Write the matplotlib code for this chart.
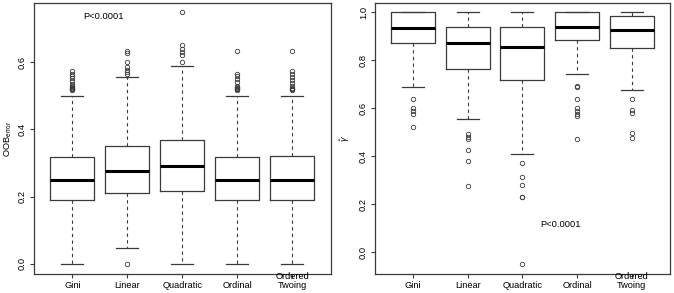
import matplotlib
matplotlib.use('Agg')
import matplotlib.pyplot as plt

plt.rcParams['font.family'] = ['Liberation Sans', 'DejaVu Sans']
plt.rcParams['mathtext.fontset'] = 'custom'
plt.rcParams['mathtext.rm'] = 'Liberation Sans'
plt.rcParams['mathtext.it'] = 'Liberation Sans:italic'

methods = ["Gini", "Linear", "Quadratic", "Ordinal", "Ordered\nTwoing"]

# left panel: OOB error
oob_whislo = [0.0, 0.047, 0.0, 0.0, 0.0]
oob_q1 = [0.189, 0.210, 0.216, 0.189, 0.189]
oob_med = [0.250, 0.277, 0.292, 0.250, 0.250]
oob_q3 = [0.317, 0.350, 0.368, 0.317, 0.320]
oob_whishi = [0.499, 0.555, 0.588, 0.499, 0.499]
oob_fliers = [
    [0.517, 0.519, 0.521, 0.523, 0.525, 0.528, 0.535, 0.545, 0.552, 0.56, 0.566, 0.573],
    [0.0, 0.565, 0.572, 0.578, 0.586, 0.6, 0.628, 0.633],
    [0.6, 0.62, 0.63, 0.64, 0.651, 0.749],
    [0.517, 0.519, 0.521, 0.523, 0.526, 0.53, 0.54, 0.55, 0.558, 0.565, 0.633],
    [0.517, 0.519, 0.521, 0.524, 0.528, 0.537, 0.548, 0.556, 0.565, 0.575, 0.633],
]

# right panel: gamma hat
g_whislo = [0.6875, 0.554, 0.41, 0.742, 0.675]
g_q1 = [0.871, 0.765, 0.717, 0.883, 0.850]
g_med = [0.933, 0.872, 0.854, 0.940, 0.926]
g_q3 = [1.0, 0.94, 0.94, 1.0, 0.986]
g_whishi = [1.0, 1.0, 1.0, 1.0, 1.0]
g_fliers = [
    [0.639, 0.603, 0.59, 0.578, 0.521],
    [0.492, 0.482, 0.473, 0.426, 0.38, 0.276],
    [0.372, 0.312, 0.282, 0.232, 0.230, -0.047],
    [0.693, 0.688, 0.638, 0.603, 0.59, 0.578, 0.568, 0.472],
    [0.638, 0.593, 0.582, 0.496, 0.475],
]

fs = 6.7
edge = '#3a3a3a'


def make_stats(lo, q1, med, q3, hi, fl):
    return [dict(whislo=a, q1=b, med=c, q3=d, whishi=e, fliers=f)
            for a, b, c, d, e, f in zip(lo, q1, med, q3, hi, fl)]


def draw(ax, stats, ylim, yticks):
    ax.bxp(stats, positions=range(1, 6), widths=0.8, patch_artist=False,
           boxprops=dict(color=edge, lw=0.9),
           medianprops=dict(color='black', lw=2.2, solid_capstyle='butt'),
           whiskerprops=dict(color=edge, lw=0.8, ls=(0, (3, 3))),
           capprops=dict(color=edge, lw=0.9),
           capwidths=0.4,
           flierprops=dict(marker='o', markerfacecolor='none', markeredgecolor=edge,
                           markersize=3.2, markeredgewidth=0.6))
    ax.set_xlim(0.3, 5.7)
    ax.set_ylim(*ylim)
    ax.set_yticks(yticks)
    ax.set_yticklabels([f"{t:.1f}" for t in yticks], rotation=90, va='center')
    ax.set_xticks(range(1, 6))
    ax.set_xticklabels([])
    # R style axis labels: last line of each label on one baseline
    for i, lab in enumerate(methods):
        ax.text(i + 1, -0.052, lab, transform=ax.get_xaxis_transform(),
                ha='center', va='baseline', fontsize=fs, linespacing=0.95)
    ax.tick_params(length=3, width=0.8, color=edge, labelsize=fs, pad=2)
    for s in ax.spines.values():
        s.set_color(edge)
        s.set_linewidth(0.9)


fig = plt.figure(figsize=(6.74, 2.93), dpi=100)
ax1 = fig.add_axes([0.0504, 0.065, 0.4407, 0.925])
ax2 = fig.add_axes([0.556, 0.065, 0.438, 0.925])

draw(ax1, make_stats(oob_whislo, oob_q1, oob_med, oob_q3, oob_whishi, oob_fliers),
     (-0.03, 0.776), [0.0, 0.2, 0.4, 0.6])
draw(ax2, make_stats(g_whislo, g_q1, g_med, g_q3, g_whishi, g_fliers),
     (-0.09, 1.039), [0.0, 0.2, 0.4, 0.6, 0.8, 1.0])

ax1.set_ylabel(r'$\mathrm{OOB}_{\mathrm{error}}$', fontsize=fs, labelpad=3)
ax2.set_ylabel(r'$\hat{\gamma}$', fontsize=fs, labelpad=5)

ax1.text(1.57, 0.737, 'P<0.0001', ha='center', va='center', fontsize=fs)
ax2.text(3.7, 0.117, 'P<0.0001', ha='center', va='center', fontsize=fs)

fig.savefig('out.png', dpi=100)
